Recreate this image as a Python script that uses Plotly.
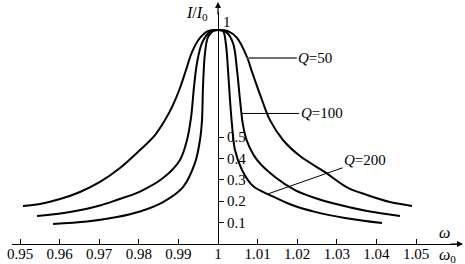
import numpy as np
import plotly.graph_objects as go

# ---- data (omega/omega0, I/I0) ----
q50_w = [0.95076, 0.95505, 0.96010, 0.96515, 0.97020, 0.97525, 0.98030, 0.98409, 0.98662,
         0.98864, 0.99040, 0.99192, 0.99343, 0.99545, 0.99747, 1.00000,
         1.00253, 1.00480, 1.00732, 1.00859, 1.01111, 1.01313, 1.01641, 1.02071, 1.02702,
         1.03258, 1.03763, 1.04343, 1.04899]
q50_i = [0.178, 0.187, 0.210, 0.243, 0.290, 0.355, 0.439, 0.509, 0.579,
         0.650, 0.729, 0.813, 0.897, 0.963, 0.995, 1.000,
         0.995, 0.963, 0.874, 0.804, 0.673, 0.579, 0.486, 0.411, 0.336,
         0.265, 0.229, 0.196, 0.178]

q100_w = [0.95429, 0.96263, 0.97020, 0.97475, 0.98030, 0.98611, 0.99040, 0.99217, 0.99318,
          0.99394, 0.99470, 0.99596, 0.99798, 1.00000,
          1.00202, 1.00379, 1.00480, 1.00556, 1.00631, 1.00732, 1.00985, 1.01439, 1.01944,
          1.02449, 1.02904, 1.03763, 1.04596]
q100_i = [0.131, 0.150, 0.180, 0.208, 0.245, 0.308, 0.393, 0.486, 0.589,
          0.734, 0.846, 0.939, 0.991, 1.000,
          0.991, 0.939, 0.813, 0.673, 0.556, 0.481, 0.393, 0.313, 0.252,
          0.215, 0.190, 0.154, 0.131]

q200_w = [0.95833, 0.96692, 0.97449, 0.98030, 0.98611, 0.99116, 0.99419, 0.99545, 0.99596,
          0.99621, 0.99672, 0.99747, 0.99874, 1.00000,
          1.00126, 1.00202, 1.00253, 1.00303, 1.00354, 1.00429, 1.00606, 1.00884, 1.01364,
          1.01869, 1.02449, 1.03207, 1.04141]
q200_i = [0.094, 0.105, 0.126, 0.152, 0.196, 0.266, 0.379, 0.486, 0.579,
          0.734, 0.893, 0.967, 0.995, 1.000,
          0.995, 0.930, 0.813, 0.673, 0.556, 0.439, 0.346, 0.271, 0.224,
          0.182, 0.150, 0.122, 0.098]

x_ticks = [0.95, 0.96, 0.97, 0.98, 0.99, 1.00, 1.01, 1.02, 1.03, 1.04, 1.05]
x_tick_text = ["0.95", "0.96", "0.97", "0.98", "0.99", "1", "1.01", "1.02", "1.03", "1.04", "1.05"]
y_ticks = [0.1, 0.2, 0.3, 0.4, 0.5]
y_tick_text = ["0.1", "0.2", "0.3", "0.4", "0.5"]

curves = [("Q=50", q50_w, q50_i), ("Q=100", q100_w, q100_i), ("Q=200", q200_w, q200_i)]
# level (I/I0) on the right branch where each leader line touches its curve
leader_levels = {"Q=50": 0.869, "Q=100": 0.61, "Q=200": 0.234}

# ---- layout geometry ----
W, H = 465, 264
X0_PX, X1_PX, XC_PX = 12, 462, 218
PX_X = 3960.0
Y0_PX, Y1_PX = 244, 12
PX_Y = 214.0
xmin = 1 - (XC_PX - X0_PX) / PX_X
xmax = 1 + (X1_PX - XC_PX) / PX_X
ymax = (Y0_PX - Y1_PX) / PX_Y

FONT = "Liberation Serif, Times New Roman, serif"
FS = 15

fig = go.Figure()
for name, w, i in curves:
    fig.add_trace(go.Scatter(x=w, y=i, mode="lines", name=name,
                             line=dict(color="black", width=2, shape="spline", smoothing=1.0),
                             showlegend=False, hoverinfo="skip"))

fig.update_layout(
    width=W, height=H,
    margin=dict(l=0, r=0, t=0, b=0),
    paper_bgcolor="white", plot_bgcolor="white",
    font=dict(family=FONT, size=FS, color="black"),
    xaxis=dict(domain=[X0_PX / W, X1_PX / W], range=[xmin, xmax], automargin=False,
               showgrid=False, zeroline=False, showline=True, linecolor="black", linewidth=1.2,
               ticks="inside", ticklen=5, tickwidth=1, tickcolor="black",
               tickvals=x_ticks, ticktext=x_tick_text, tickfont=dict(size=FS, family=FONT),
               ticklabelstandoff=-4, anchor="y"),
    yaxis=dict(domain=[(H - Y0_PX) / H, (H - Y1_PX) / H], range=[0, ymax], automargin=False,
               showgrid=False, zeroline=False, showline=True, linecolor="black", linewidth=1.2,
               ticks="outside", ticklen=5, tickwidth=1, tickcolor="black",
               tickvals=y_ticks, ticktext=y_tick_text, tickfont=dict(size=FS, family=FONT),
               anchor="free", position=XC_PX / W, side="right"),
)

ann = []
# axis arrows
ann.append(dict(xref="paper", yref="paper", x=463 / W, y=(H - Y0_PX) / H, ax=-14, ay=0,
                showarrow=True, arrowhead=2, arrowsize=1, arrowwidth=1.2, arrowcolor="black", text=""))
ann.append(dict(xref="paper", yref="paper", x=XC_PX / W, y=(H - 2) / H, ax=0, ay=14,
                showarrow=True, arrowhead=2, arrowsize=1, arrowwidth=1.2, arrowcolor="black", text=""))
# axis titles
ann.append(dict(xref="paper", yref="paper", x=444 / W, y=(H - 232) / H, text="<i>ω</i>",
                xanchor="center", yanchor="middle", showarrow=False, font=dict(size=16, family=FONT)))
ann.append(dict(xref="paper", yref="paper", x=447 / W, y=(H - 255) / H, text="<i>ω</i><sub>0</sub>",
                xanchor="center", yanchor="middle", showarrow=False, font=dict(size=16, family=FONT)))
ann.append(dict(xref="paper", yref="paper", x=197 / W, y=(H - 14) / H,
                text="<i>I</i>/<i>I</i><sub>0</sub>", xanchor="center", yanchor="middle",
                showarrow=False, font=dict(size=16, family=FONT)))
ann.append(dict(x=1.0, y=1.0, xref="x", yref="y", text="1", showarrow=False,
                xanchor="center", yanchor="middle",
                xshift=9, yshift=8, font=dict(size=FS, family=FONT)))

# curve labels with leader lines
label_style = {
    "Q=50": dict(ax=68, ay=0, color="#707070", width=2),
    "Q=100": dict(ax=80, ay=0, color="black", width=1),
    "Q=200": dict(ax=97, ay=-34, color="black", width=1),
}
for name, w, i in curves:
    w = np.array(w); i = np.array(i)
    right = w >= 1.0
    wr, ir = w[right][::-1], i[right][::-1]  # increasing I for interp
    lvl = leader_levels[name]
    wx = float(np.interp(lvl, ir, wr))
    st = label_style[name]
    ann.append(dict(x=wx, y=lvl, xref="x", yref="y", ax=st["ax"], ay=st["ay"],
                    text="<i>Q</i>=" + name.split("=")[1], showarrow=True, arrowhead=0,
                    arrowwidth=st["width"], arrowcolor=st["color"],
                    font=dict(size=FS, family=FONT)))

fig.update_layout(annotations=ann)
fig.write_html("out.html")
